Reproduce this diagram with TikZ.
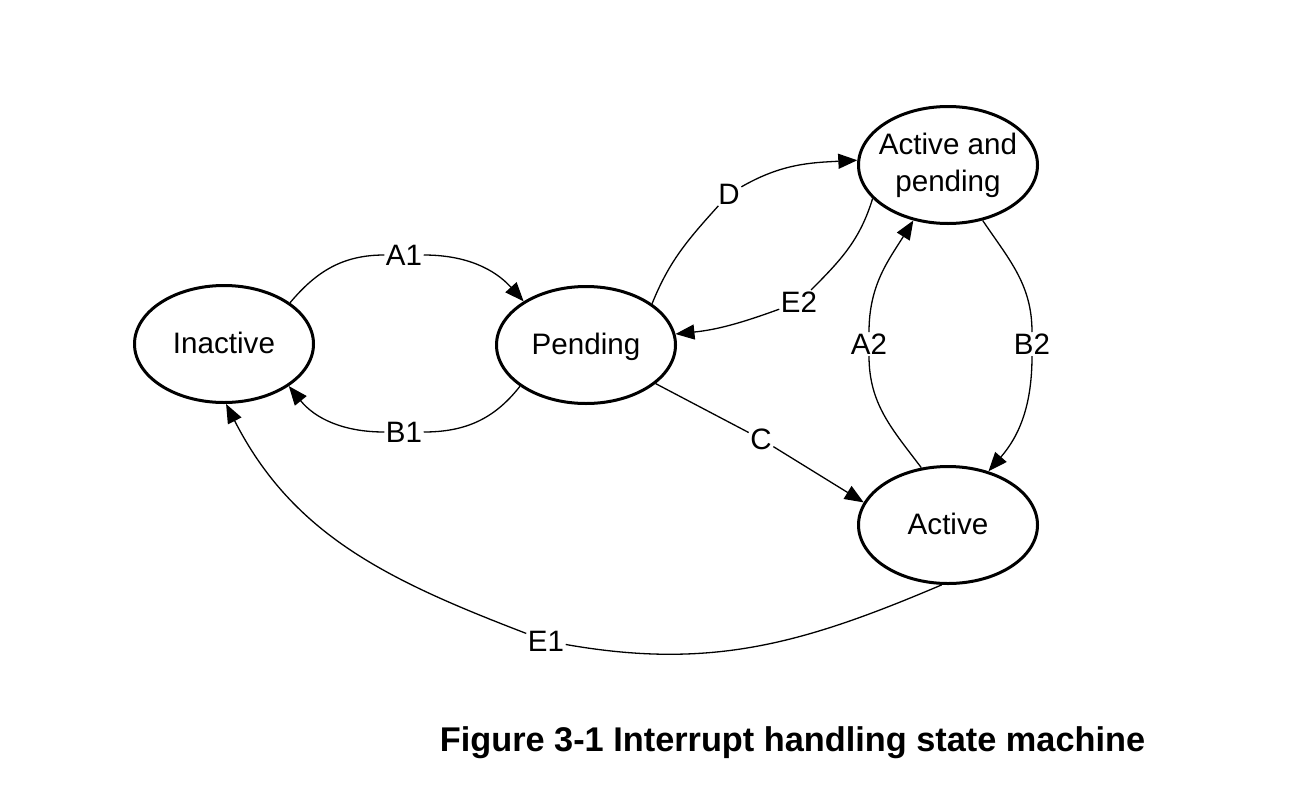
\documentclass[tikz,border=0pt]{standalone}
\usepackage{fontspec}
\setmainfont{Liberation Sans}
\usetikzlibrary{shapes.geometric,arrows.meta}
\begin{document}
\begin{tikzpicture}[x=1pt,y=1pt,
  state/.style={draw, ellipse, line width=3pt, minimum width=179pt, minimum height=117pt,
    inner xsep=-6pt, inner ysep=0pt, font=\fontsize{29.6}{37}\selectfont},
  single/.style={text height=20pt, text depth=2pt},
  lbl/.style={inner sep=1.5pt, font=\fontsize{29.5}{35}\selectfont},
  arr/.style={line width=1.3pt, -{Triangle[length=19pt,width=15pt]}},
  ln/.style={line width=1.3pt}]
\fill[white] (0,0) rectangle (1292,-790);
\useasboundingbox (0,0) rectangle (1292,-790);
% states
\node[state,single] (Inactive) at (224,-344) {Inactive};
\node[state,single] (Pending) at (586,-345) {Pending};
\node[state,align=center] (AP) at (948,-165) {Active and\\pending};
\node[state,single] (Active) at (948,-525) {Active};
% labels
\node[lbl] (lA1) at (404,-255) {A1};
\node[lbl] (lB1) at (404,-432) {B1};
\node[lbl] (lD) at (729,-194) {D};
\node[lbl] (lE2) at (799,-302) {E2};
\node[lbl] (lA2) at (869,-344) {A2};
\node[lbl] (lB2) at (1032,-344) {B2};
\node[lbl] (lC) at (761,-439) {C};
\node[lbl] (lE1) at (546,-641) {E1};
% connectors
\draw[arr] (Inactive.32) to[out=50,in=180] (lA1) to[out=0,in=132] (Pending.145);
\draw[arr] (Pending.212) to[out=232,in=0] (lB1) to[out=180,in=-51] (Inactive.-33);
\draw[arr] (Pending.32) to[out=68,in=228] (lD) to[out=30,in=183] (AP.177);
\draw[arr] (AP.204) to[out=253,in=45] (lE2) to[out=200,in=6] (Pending.7);
\draw[arr] (Active.115) to[out=127,in=270] (lA2) to[out=90,in=238] (AP.238);
\draw[arr] (AP.302) to[out=-56,in=90] (lB2) to[out=270,in=49] (Active.53);
\draw[arr] (Pending.-29) -- (lC) -- (Active.165);
\draw[arr] (Active.-96) to[out=203,in=-10] (lE1) to[out=159,in=-63] (Inactive.-88);
% caption
\node[font=\fontsize{34.3}{40}\selectfont\bfseries, anchor=base, inner sep=0pt] (cap) at (792.5,-751) {Figure 3-1 Interrupt handling state machine};
\end{tikzpicture}
\end{document}
